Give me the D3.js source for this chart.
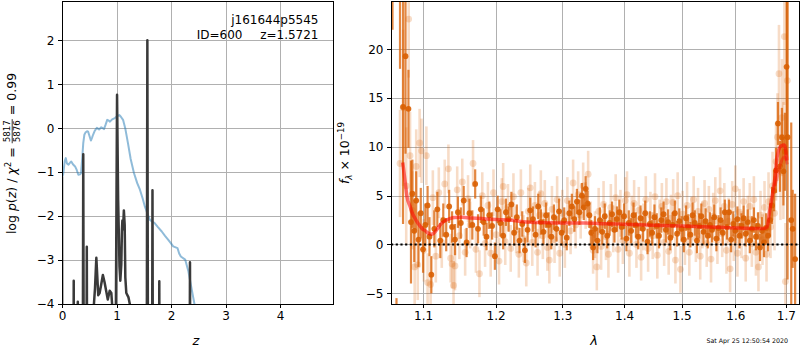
<!DOCTYPE html>
<html><head><meta charset="utf-8">
<script src="https://cdn.jsdelivr.net/npm/d3@7"></script>
<style>
body{margin:0;background:#fff;}
svg{display:block;font-family:"DejaVu Sans",sans-serif;}
text{fill:#000;}
</style></head><body>
<svg id="c" width="800" height="350"></svg>
<script>
// ---------------- DATA ----------------
const zTicks = [0, 1, 2, 3, 4];
const logpTicks = [-4, -3, -2, -1, 0, 1, 2];
const waveTicks = [1.1, 1.2, 1.3, 1.4, 1.5, 1.6, 1.7];
const fluxTicks = [-5, 0, 5, 10, 15, 20];

const titleName = "j161644p5545";
const titleId = "ID=600";
const titleZ = "z=1.5721";
const dateText = "Sat Apr 25 12:50:54 2020";

// log p(z) (dark line)
const pzZ = [0.000,0.012,0.200,0.215,0.230,0.270,0.290,0.310,0.370,0.390,0.410,0.435,0.455,0.475,0.550,0.575,0.605,0.630,0.665,0.690,0.720,0.750,0.780,0.810,0.840,0.875,0.905,0.930,0.960,0.985,1.010,1.030,1.055,1.070,1.088,1.100,1.108,1.120,1.135,1.150,1.162,1.180,1.220,1.260,1.300,1.545,1.566,1.587,1.642,1.660,1.678,1.770,1.785,1.800,2.328,2.348,2.368,4.970];
const pzLogp = [-1.10,-12,-12,-3.47,-12,-5,-3.95,-5,-12,-0.59,-12,-12,-2.70,-12,-12,-4.2,-3.65,-2.95,-3.80,-3.75,-3.55,-3.34,-3.50,-3.70,-3.90,-3.70,-3.75,-4.20,-6,-5,0.76,-1.63,-3.15,-3.47,-3.10,-2.30,-2.10,-2.30,-1.87,-2.20,-3.40,-3.75,-3.85,-4.10,-12,-12,2.00,-12,-12,-1.41,-12,-12,-3.48,-12,-12,-3.05,-12,-12];

// chi2 curve (blue line)
const chiZ = [0.00,0.02,0.05,0.07,0.09,0.12,0.15,0.17,0.20,0.24,0.27,0.30,0.33,0.35,0.37,0.39,0.41,0.43,0.46,0.48,0.51,0.53,0.55,0.57,0.60,0.64,0.66,0.68,0.72,0.75,0.77,0.80,0.83,0.86,0.88,0.92,0.97,1.01,1.05,1.08,1.12,1.16,1.21,1.26,1.32,1.38,1.43,1.48,1.52,1.57,1.61,1.65,1.70,1.76,1.83,1.89,1.95,2.00,2.04,2.12,2.15,2.18,2.26,2.32,2.38,2.43,2.47];
const chiVal = [-1.10,-1.06,-0.75,-0.68,-0.80,-0.83,-0.78,-0.76,-0.82,-0.87,-0.95,-1.06,-1.05,-1.02,-0.70,-0.34,-0.15,-0.10,-0.07,-0.08,-0.20,-0.28,-0.22,-0.15,-0.06,0.01,-0.01,-0.03,0.02,0.00,-0.02,0.08,0.19,0.17,0.15,0.20,0.23,0.27,0.30,0.26,0.19,0.00,-0.34,-0.70,-1.02,-1.25,-1.40,-1.60,-1.78,-1.95,-2.08,-2.12,-2.16,-2.25,-2.35,-2.45,-2.54,-2.62,-2.69,-2.73,-2.85,-2.92,-2.99,-3.26,-3.67,-4.00,-4.30];

// spectrum: binned points [wavelength, flux, error]
const darkSpec = [
[1.0604,30,8],[1.0655,-12,6.5],[1.070,27,9],[1.0739,14.1,12],[1.0771,19.3,10],[1.0809,13.9,4],[1.0842,2.3,6.3],
[1.086,5.2,3.5],[1.0885,1.4,3.2],[1.091,4.5,3.0],[1.094,0.5,2.8],[1.097,3.2,2.6],[1.100,-0.5,2.4],[1.103,2.0,2.2],[1.106,4.0,2.0],[1.1085,0.8,2.0],[1.111,-3.1,1.9],
[1.115,1.6,1.9],[1.119,3.6,1.8],[1.123,0.4,1.8],[1.127,2.5,1.7],[1.131,1.0,1.7],[1.135,3.9,1.7],[1.139,1.8,1.6],[1.143,0.5,1.6],[1.147,3.3,1.6],[1.151,2.2,1.6],
[1.155,4.5,1.5],[1.159,0.2,1.5],[1.163,3.2,1.5],[1.167,2.0,1.5],[1.171,6.2,1.5],[1.175,1.6,1.5],[1.179,3.6,1.4],[1.183,2.3,1.4],[1.187,0.8,1.4],[1.191,3.0,1.4],
[1.195,1.9,1.4],[1.199,-1.2,1.4],[1.203,3.6,1.4],[1.207,2.2,1.4],[1.211,0.9,1.4],[1.215,3.3,1.4],[1.219,2.6,1.3],[1.223,4.1,1.3],[1.227,1.2,1.3],[1.231,2.8,1.3],
[1.235,0.4,1.3],[1.239,2.1,1.3],[1.243,-0.6,1.3],[1.247,1.5,1.3],[1.251,3.5,1.3],[1.255,2.6,1.3],[1.259,1.0,1.3],[1.263,3.9,1.3],[1.267,2.3,1.3],[1.271,1.3,1.3],
[1.275,3.0,1.3],[1.279,2.0,1.3],[1.283,0.8,1.3],[1.287,2.8,1.3],[1.291,1.6,1.3],[1.295,3.4,1.3],[1.299,1.2,1.3],[1.303,2.5,1.3],[1.307,0.7,1.3],[1.311,3.2,1.3],
[1.315,3.9,1.3],[1.319,2.6,1.3],[1.323,4.4,1.3],[1.327,3.3,1.3],[1.331,5.0,1.3],[1.334,3.8,1.3],[1.337,5.7,1.3],[1.340,4.2,1.3],[1.343,3.0,1.3],[1.346,1.2,1.3],
[1.349,-0.3,1.3],[1.352,1.6,1.3],[1.356,0.4,1.3],[1.360,2.5,1.3],[1.364,1.3,1.3],[1.368,2.9,1.3],[1.372,0.9,1.3],[1.376,2.2,1.3],[1.380,3.1,1.3],[1.384,1.5,1.3],
[1.388,2.6,1.3],[1.392,3.3,1.3],[1.396,1.8,1.3],[1.400,2.9,1.3],[1.404,0.6,1.3],[1.408,2.2,1.3],[1.412,1.4,1.3],[1.416,3.0,1.3],[1.420,2.0,1.3],[1.424,0.8,1.3],
[1.428,2.7,1.3],[1.432,1.6,1.3],[1.436,3.2,1.3],[1.440,0.3,1.3],[1.444,2.1,1.3],[1.448,1.2,1.3],[1.452,2.8,1.3],[1.456,1.9,1.3],[1.460,0.9,1.3],[1.464,2.5,1.3],
[1.468,3.1,1.3],[1.472,1.5,1.3],[1.476,2.3,1.3],[1.480,0.7,1.3],[1.484,2.0,1.3],[1.488,3.2,1.3],[1.492,1.1,1.3],[1.496,2.4,1.3],[1.500,1.6,1.3],[1.504,0.5,1.3],
[1.508,2.7,1.3],[1.512,1.8,1.3],[1.516,1.0,1.3],[1.520,3.0,1.3],[1.524,2.2,1.3],[1.528,0.4,1.3],[1.532,1.9,1.3],[1.536,2.9,1.3],[1.540,1.3,1.3],[1.544,2.4,1.3],
[1.548,0.9,1.3],[1.552,2.0,1.3],[1.556,1.5,1.3],[1.560,2.8,1.3],[1.564,0.6,1.3],[1.568,1.7,1.3],[1.572,2.5,1.3],[1.576,1.2,1.3],[1.580,3.3,1.3],[1.584,1.8,1.3],
[1.588,3.3,1.3],[1.592,0.5,1.3],[1.596,2.1,1.3],[1.600,1.4,1.3],[1.604,2.6,1.3],[1.608,0.9,1.3],[1.612,1.9,1.3],[1.616,2.7,1.3],[1.620,1.1,1.3],[1.624,2.3,1.3],
[1.628,0.4,1.3],[1.632,1.6,1.3],[1.636,2.5,1.3],[1.640,0.8,1.4],[1.644,1.9,1.4],[1.648,-0.3,1.4],[1.652,1.4,1.4],[1.656,0.2,1.5],[1.660,1.7,1.5],[1.664,0.9,1.6],
[1.668,2.5,1.7],[1.672,4.0,1.9],[1.676,5.5,2.1],[1.680,7.6,2.3],[1.684,12.4,2.2],[1.688,8.0,2.6],[1.692,11.0,3.0],[1.695,7.5,3.5],[1.698,9.5,4],
[1.7015,18.2,9],[1.7035,11,14.6],[1.711,2.5,10],[1.714,1.6,4],[1.719,-1.5,6.7]
];

// spectrum: unbinned points [wavelength, flux, error]
const lightSpec = [
[1.070,8.3,5.5],[1.074,14.0,8],[1.078,6.0,6],[1.0812,23.1,6],[1.083,9.1,4.5],[1.086,3.5,4],[1.089,-2.3,4],[1.091,8.0,3.8],[1.093,-2.1,3.6],[1.0955,10.4,3.5],
[1.098,9.6,3.3],[1.101,-0.6,3.2],[1.1044,9.1,3.0],[1.106,-3.9,3.0],[1.110,-4.1,2.9],[1.113,4.8,2.8],[1.117,-1.2,2.7],[1.121,5.3,2.6],[1.125,0.2,2.6],[1.129,6.2,2.5],
[1.134,7.75,2.5],[1.137,-1.4,2.5],[1.139,-2.0,2.5],[1.141,-4.2,2.5],[1.143,-2.2,2.5],[1.146,5.6,2.4],[1.149,0.9,2.4],[1.153,6.4,2.4],[1.157,-0.8,2.4],[1.161,4.7,2.4],
[1.164,2.0,2.4],[1.168,8.3,2.4],[1.172,-0.5,2.4],[1.177,-3.0,2.4],[1.181,5.0,2.4],[1.185,0.1,2.4],[1.189,4.0,2.4],[1.193,-0.9,2.4],[1.197,5.3,2.4],[1.201,1.0,2.4],
[1.205,-1.7,2.4],[1.209,4.4,2.4],[1.211,5.95,2.4],[1.214,0.3,2.4],[1.218,3.8,2.4],[1.222,-0.4,2.4],[1.226,4.9,2.4],[1.230,1.5,2.4],[1.234,-1.0,2.4],[1.237,5.3,2.4],
[1.241,0.6,2.4],[1.245,-1.9,2.4],[1.248,3.4,2.4],[1.251,5.8,2.4],[1.254,0.2,2.4],[1.258,4.0,2.4],[1.262,-0.8,2.4],[1.265,3.0,2.4],[1.267,5.2,2.4],[1.270,0.9,2.4],
[1.273,4.2,2.4],[1.277,-0.3,2.4],[1.280,-1.6,2.4],[1.284,3.6,2.4],[1.288,0.5,2.4],[1.292,4.6,2.4],[1.296,-0.9,2.4],[1.300,3.2,2.4],[1.304,0.0,2.4],[1.308,4.5,2.4],
[1.313,1.4,2.4],[1.317,6.3,2.4],[1.321,2.0,2.4],[1.325,5.1,2.4],[1.329,3.0,2.4],[1.333,6.0,2.4],[1.337,4.0,2.4],[1.341,7.2,2.4],[1.345,2.0,2.4],[1.349,-0.6,2.4],
[1.352,1.0,2.4],[1.355,-2.3,2.4],[1.358,3.4,2.4],[1.362,-0.2,2.4],[1.366,4.1,2.4],[1.370,0.8,2.4],[1.374,-1.0,2.4],[1.378,3.8,2.4],[1.382,1.6,2.4],[1.386,4.8,2.4],
[1.390,-0.5,2.4],[1.394,3.2,2.4],[1.398,0.4,2.4],[1.402,4.5,2.4],[1.405,5.1,2.4],[1.409,-0.9,2.4],[1.413,2.6,2.4],[1.417,4.2,2.4],[1.421,0.0,2.4],[1.425,3.5,2.4],
[1.429,-1.3,2.4],[1.433,1.8,2.4],[1.437,4.6,2.4],[1.441,-0.4,2.4],[1.445,3.0,2.4],[1.449,0.9,2.4],[1.453,4.9,2.4],[1.457,-1.1,2.4],[1.461,2.2,2.4],[1.465,3.9,2.4],
[1.469,0.2,2.4],[1.473,4.4,2.4],[1.477,-0.7,2.4],[1.481,2.7,2.4],[1.485,4.3,2.4],[1.489,-1.6,2.4],[1.493,5.0,2.4],[1.498,-2.55,2.4],[1.502,3.1,2.4],[1.506,0.3,2.4],
[1.510,4.0,2.4],[1.514,-0.8,2.4],[1.518,2.5,2.4],[1.522,4.6,2.4],[1.526,0.6,2.4],[1.530,3.4,2.4],[1.534,-1.2,2.4],[1.538,2.0,2.4],[1.542,4.2,2.4],[1.546,0.1,2.4],
[1.550,3.6,2.4],[1.554,-1.5,2.4],[1.558,2.9,2.4],[1.562,4.5,2.4],[1.566,0.4,2.4],[1.571,5.5,2.4],[1.575,1.1,2.4],[1.579,3.9,2.4],[1.583,-0.6,2.4],[1.587,2.4,2.4],
[1.590,-2.5,2.4],[1.594,4.1,2.4],[1.597,0.7,2.4],[1.600,5.7,2.4],[1.604,-0.9,2.4],[1.608,3.3,2.4],[1.612,1.0,2.4],[1.616,4.4,2.4],[1.620,-1.4,2.4],[1.624,2.6,2.4],
[1.628,3.9,2.4],[1.632,0.1,2.4],[1.636,4.6,2.4],[1.640,-0.8,2.4],[1.645,-2.3,2.5],[1.649,3.0,2.5],[1.653,0.5,2.6],[1.657,3.8,2.7],[1.661,-1.0,2.8],[1.665,4.4,3.0],
[1.669,1.8,3.2],[1.673,6.0,3.5],[1.677,3.2,3.8],[1.680,8.5,4],[1.683,11.0,4.5],[1.686,17.5,5],[1.689,7.5,5],[1.692,13.0,6],[1.695,8.6,6],[1.697,21.3,7],
[1.699,-3.8,6],[1.703,16.8,8]
];

// model (red)
const modelWave = [1.0735,1.0765,1.079,1.083,1.086,1.090,1.094,1.099,1.103,1.107,1.111,1.114,1.117,1.121,1.125,1.130,1.136,1.143,1.152,1.165,1.180,1.195,1.210,1.224,1.234,1.245,1.265,1.300,1.335,1.370,1.400,1.450,1.500,1.550,1.600,1.640,1.655,1.662,1.6675,1.673,1.678,1.682,1.690,1.697,1.702];
const modelFlux = [8.4,6.5,4.9,3.9,3.2,2.6,2.1,1.6,1.4,1.15,1.05,1.15,1.4,1.8,2.2,2.45,2.65,2.76,2.78,2.72,2.65,2.58,2.53,2.48,2.38,2.30,2.25,2.20,2.20,2.12,2.07,1.98,1.90,1.80,1.70,1.64,1.63,1.80,3.5,5.2,6.9,8.9,10.1,10.2,8.6];
const model2Wave = [1.678,1.683,1.690,1.697,1.703];
const model2Flux = [6.0,7.0,8.4,9.0,8.2];

// ---------------- DRAW ----------------
const svg = d3.select("#c");
const BLACK = "#000";
const GRID = "#b0b0b0";

function makePanel(id, left, top, W, H, x, y, xt, yt, xf, yf) {
  const g = svg.append("g").attr("transform", `translate(${left},${top})`);
  g.append("clipPath").attr("id", "clip" + id).append("rect").attr("width", W).attr("height", H);
  const gx = g.append("g").attr("transform", `translate(0,${H})`)
    .call(d3.axisBottom(x).tickValues(xt).tickSize(-H).tickFormat(""));
  const gy = g.append("g").call(d3.axisLeft(y).tickValues(yt).tickSize(-W).tickFormat(""));
  [gx, gy].forEach(a => {
    a.select(".domain").remove();
    a.selectAll("line").attr("stroke", GRID).attr("stroke-width", 1).attr("shape-rendering", "crispEdges");
  });
  const data = g.append("g").attr("clip-path", `url(#clip${id})`);
  const front = g.append("g");
  return {g, data, front, finish: () => {
    front.append("rect").attr("x", 0).attr("y", 0).attr("width", W).attr("height", H)
      .attr("fill", "none").attr("stroke", BLACK).attr("stroke-width", 1).attr("shape-rendering", "crispEdges");
    const ax = front.append("g").attr("transform", `translate(0,${H})`)
      .call(d3.axisBottom(x).tickValues(xt).tickSize(4).tickPadding(3.5).tickFormat(xf));
    const ay = front.append("g")
      .call(d3.axisLeft(y).tickValues(yt).tickSize(4).tickPadding(3.5).tickFormat(yf));
    [ax, ay].forEach(a => {
      a.select(".domain").remove();
      a.selectAll("line").attr("stroke", BLACK).attr("shape-rendering", "crispEdges");
      a.selectAll("text").attr("fill", BLACK).style("font-size", "12px").style("font-family", "DejaVu Sans");
    });
  }};
}

// ----- Left panel -----
const LW = 271, LH = 303;
const xz = d3.scaleLinear().domain([0, 4.972]).range([0, LW]);
const yl = d3.scaleLinear().domain([-4, 2.894]).range([LH, 0]);
const fmtInt = d3.format("d");
const P1 = makePanel("L", 62, 1, LW, LH, xz, yl, zTicks, logpTicks, fmtInt, fmtInt);

const chiLine = d3.line().x((d, i) => xz(chiZ[i])).y((d, i) => yl(chiVal[i]));
P1.data.append("path").attr("d", chiLine(chiZ)).attr("fill", "none")
  .attr("stroke", "#1f77b4").attr("stroke-opacity", 0.5).attr("stroke-width", 2).attr("stroke-linejoin", "round");
const pzLine = d3.line().x((d, i) => xz(pzZ[i])).y((d, i) => yl(pzLogp[i]));
P1.data.append("path").attr("d", pzLine(pzZ)).attr("fill", "none")
  .attr("stroke", "#3a3a3a").attr("stroke-width", 2.5).attr("stroke-linejoin", "round");
P1.finish();

P1.front.append("text").attr("x", 256.5).attr("y", 23).attr("text-anchor", "end")
  .style("font-size", "12px").text(titleName);
P1.front.append("text").attr("x", 180.5).attr("y", 37.5).attr("text-anchor", "end")
  .style("font-size", "12px").text(titleId);
P1.front.append("text").attr("x", 256.5).attr("y", 37.5).attr("text-anchor", "end")
  .style("font-size", "12px").text(titleZ);

svg.append("text").attr("x", 196).attr("y", 345).attr("text-anchor", "middle")
  .style("font-size", "13px").style("font-style", "italic").text("z");

// left y label with math
(function () {
  const g = svg.append("g");
  let x = 0;
  const add = (t, o = {}) => {
    const el = g.append("text").attr("x", x).attr("y", o.y || 0)
      .style("font-size", (o.size || 12.5) + "px").style("font-style", o.it ? "italic" : "normal")
      .style("white-space", "pre").text(t);
    x += el.node().getComputedTextLength() + (o.pad || 0);
    return el;
  };
  add("log ");
  add("p", {it: true});
  add("(");
  add("z", {it: true});
  add(") / ");
  add("\u03c7", {it: true});
  add("2", {size: 8.7, y: -5});
  add(" = ");
  const n = g.append("text").style("font-size", "8.7px").attr("y", -5.6).text("5817");
  const d = g.append("text").style("font-size", "8.7px").attr("y", 4.4).text("5876");
  const fw = Math.max(n.node().getComputedTextLength(), d.node().getComputedTextLength()) + 2;
  n.attr("x", x + fw / 2).attr("text-anchor", "middle");
  d.attr("x", x + fw / 2).attr("text-anchor", "middle");
  g.append("line").attr("x1", x).attr("x2", x + fw).attr("y1", -3.8).attr("y2", -3.8)
    .attr("stroke", BLACK).attr("stroke-width", 0.8);
  x += fw;
  add(" = 0.99");
  g.attr("transform", `translate(16,${153.5 + x / 2}) rotate(-90)`);
})();

// ----- Right panel -----
const RW = 408, RH = 303;
const xw = d3.scaleLog().domain([1.0585, 1.727]).range([0, RW]);
const yf = d3.scaleLinear().domain([-6.1, 24.95]).range([RH, 0]);
const P2 = makePanel("R", 391, 1, RW, RH, xw, yf, waveTicks, fluxTicks, d3.format(".1f"), fmtInt);
const ORANGE = "#d95f02";

const lg = P2.data.append("g");
lg.selectAll("line").data(lightSpec).join("line")
  .attr("x1", d => xw(d[0])).attr("x2", d => xw(d[0]))
  .attr("y1", d => yf(d[1] - d[2])).attr("y2", d => yf(d[1] + d[2]))
  .attr("stroke", ORANGE).attr("stroke-opacity", 0.22).attr("stroke-width", 2.6);
lg.selectAll("circle").data(lightSpec).join("circle")
  .attr("cx", d => xw(d[0])).attr("cy", d => yf(d[1])).attr("r", 3.4)
  .attr("fill", ORANGE).attr("fill-opacity", 0.22);

const dg = P2.data.append("g");
dg.selectAll("line").data(darkSpec).join("line")
  .attr("x1", d => xw(d[0])).attr("x2", d => xw(d[0]))
  .attr("y1", d => yf(d[1] - d[2])).attr("y2", d => yf(d[1] + d[2]))
  .attr("stroke", ORANGE).attr("stroke-opacity", 0.75).attr("stroke-width", 2.2);
dg.selectAll("circle").data(darkSpec).join("circle")
  .attr("cx", d => xw(d[0])).attr("cy", d => yf(d[1])).attr("r", 2.9)
  .attr("fill", ORANGE).attr("fill-opacity", 0.9);

P2.data.append("line").attr("x1", 0).attr("x2", RW).attr("y1", yf(0)).attr("y2", yf(0))
  .attr("stroke", BLACK).attr("stroke-width", 2).attr("stroke-dasharray", "2.2,2.5");

const mLine = d3.line().curve(d3.curveMonotoneX).x((d, i) => xw(modelWave[i])).y((d, i) => yf(modelFlux[i]));
P2.data.append("path").attr("d", mLine(modelWave)).attr("fill", "none")
  .attr("stroke", "red").attr("stroke-opacity", 0.55).attr("stroke-width", 3.5).attr("stroke-linejoin", "round");
const m2Line = d3.line().curve(d3.curveMonotoneX).x((d, i) => xw(model2Wave[i])).y((d, i) => yf(model2Flux[i]));
P2.data.append("path").attr("d", m2Line(model2Wave)).attr("fill", "none")
  .attr("stroke", "red").attr("stroke-opacity", 0.35).attr("stroke-width", 3);
P2.finish();

svg.append("text").attr("x", 594).attr("y", 345).attr("text-anchor", "middle")
  .style("font-size", "13px").style("font-style", "italic").text("\u03bb");

// right y label
(function () {
  const g = svg.append("g");
  let x = 0;
  const add = (t, o = {}) => {
    const el = g.append("text").attr("x", x).attr("y", o.y || 0)
      .style("font-size", (o.size || 12.5) + "px").style("font-style", o.it ? "italic" : "normal")
      .style("white-space", "pre").text(t);
    x += el.node().getComputedTextLength() + (o.pad || 0);
  };
  add("f", {it: true});
  add("\u03bb", {it: true, size: 8.7, y: 2.6});
  add(" \u00d7 10");
  add("\u221219", {size: 8.7, y: -5});
  g.attr("transform", `translate(349,${153 + x / 2}) rotate(-90)`);
})();

svg.append("text").attr("x", 788).attr("y", 342.5).attr("text-anchor", "end")
  .style("font-size", "6.3px").text(dateText);
</script>
</body></html>
